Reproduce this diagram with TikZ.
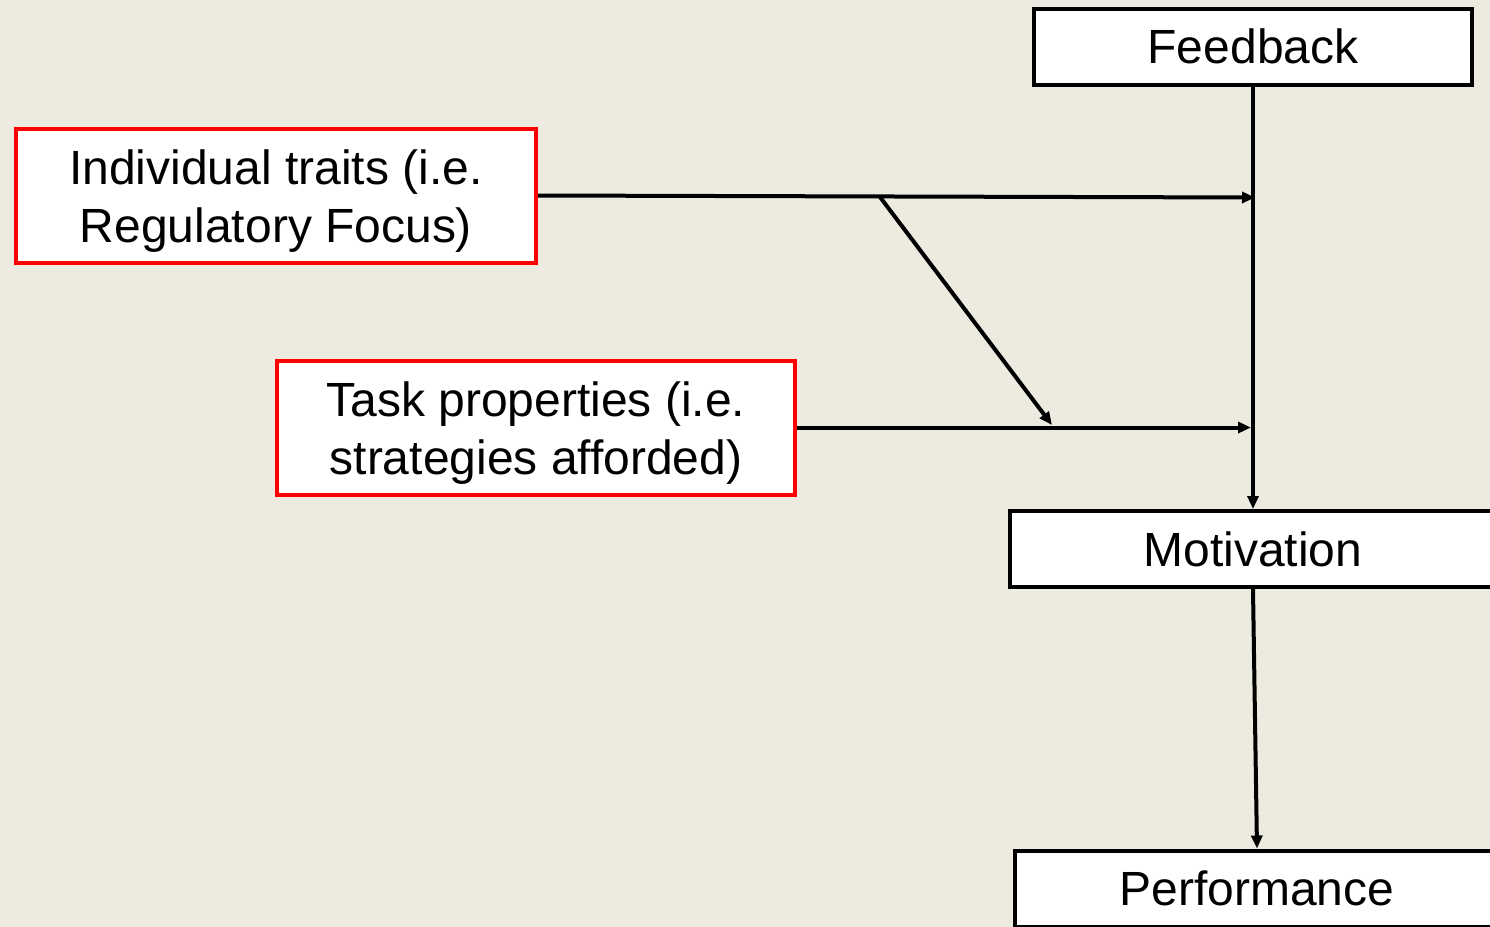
\documentclass[tikz,border=0pt]{standalone}
\usepackage{fontspec}
\setmainfont{Liberation Sans}
\usetikzlibrary{arrows.meta}
\definecolor{bg}{RGB}{237,235,224}
\definecolor{boxred}{RGB}{255,0,0}
\newcommand{\topstrut}{\rule{0pt}{22.5pt}}
\begin{document}
\begin{tikzpicture}[x=0.5pt,y=-0.5pt,
  box/.style={draw=black,line width=2pt,fill=white,inner sep=0pt,
    font=\fontsize{24}{29}\selectfont,align=center},
  redbox/.style={box,draw=boxred},
  conn/.style={line width=2pt,-{Triangle[length=6.5pt,width=5.5pt]}}]
\fill[bg] (0,0) rectangle (1490,927);
\useasboundingbox (0,0) rectangle (1490,927);
\node[box,minimum width=219pt,minimum height=38pt] (fb) at (1253,46.5) {Feedback};
\node[redbox,minimum width=260pt,minimum height=67pt] (ind) at (276,195.5) {\topstrut Individual traits (i.e.\\Regulatory Focus)};
\node[redbox,minimum width=259pt,minimum height=67pt] (task) at (536,427.5) {\topstrut Task properties (i.e.\\strategies afforded)};
\node[box,minimum width=243pt,minimum height=38pt] (mot) at (1253,549) {Motivation};
\node[box,minimum width=242pt,minimum height=38pt] (perf) at (1257,888.5) {Performance};
\coordinate (j1) at (1255,197.5);
\coordinate (d0) at (880,197);
\coordinate (d1) at (1052,425);
\coordinate (j2) at (1251,427.5);
\draw[conn] (fb.south) -- (mot.north);
\draw[conn] (ind.east) -- (j1);
\draw[conn] (d0) -- (d1);
\draw[conn] (task.east) -- (j2);
\draw[conn] (mot.south) -- (perf.north);
\end{tikzpicture}
\end{document}
